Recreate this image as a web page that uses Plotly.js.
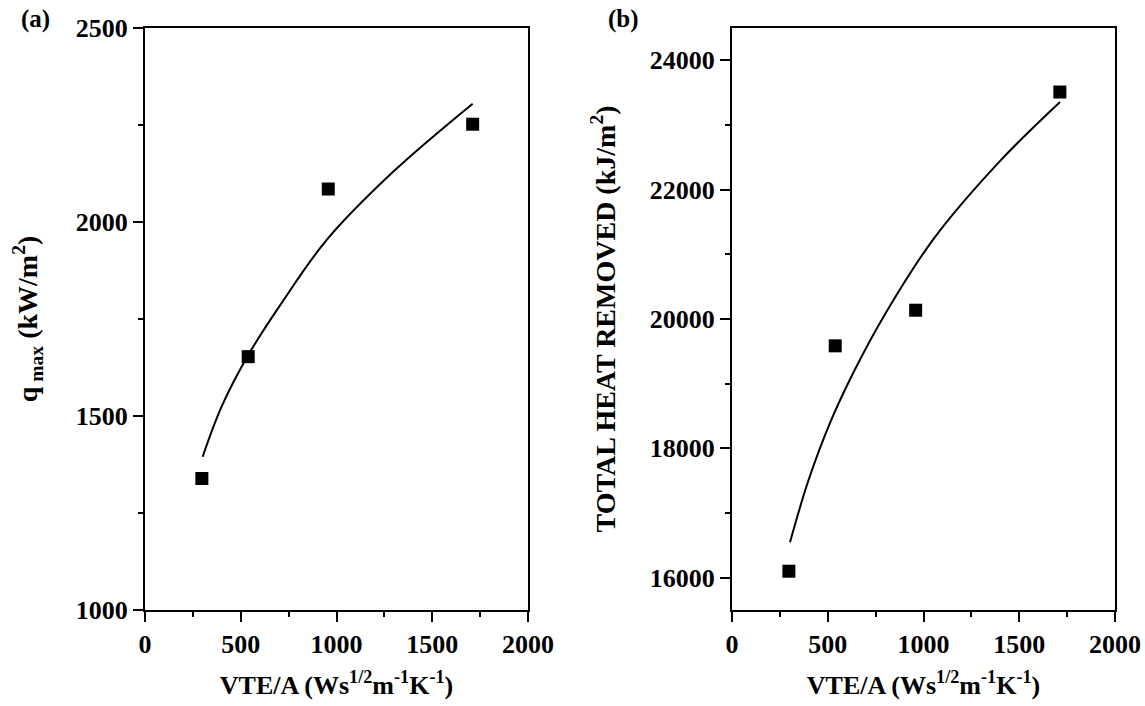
<!DOCTYPE html>
<html><head><meta charset="utf-8">
<script src="https://cdn.plot.ly/plotly-3.0.1.min.js"></script>
<style>html,body{margin:0;padding:0;background:#fff}#plot{width:1145px;height:706px}</style>
</head><body><div id="plot"></div>
<script>
// Panel (a) data
const vteA = [297, 539, 957, 1711];
const qmax = [1339, 1653, 2085, 2252];
const fitXA = [301, 400, 539, 705, 949, 1297, 1711];
const fitYA = [1395, 1524, 1657, 1785, 1954, 2130, 2305];
// Panel (b) data
const vteB = [297, 539, 959, 1712];
const heat = [16100, 19585, 20136, 23510];
const fitXB = [303, 399, 520, 642, 799, 1051, 1399, 1713];
const fitYB = [16549, 17502, 18450, 19220, 20075, 21232, 22441, 23356];
// tick labels
const xTicks = [0, 500, 1000, 1500, 2000];
const yTicksA = [1000, 1500, 2000, 2500];
const yTicksB = [16000, 18000, 20000, 22000, 24000];

const F = 'Liberation Serif';
const mk = {symbol: 'square', size: 13, color: '#000'};
const ln = {color: '#000', width: 2, shape: 'spline', smoothing: 1};
const bold = v => '<b>' + v + '</b>';

const traces = [
  {x: fitXA, y: fitYA, mode: 'lines', line: ln, xaxis: 'x', yaxis: 'y', hoverinfo: 'skip'},
  {x: vteA, y: qmax, mode: 'markers', marker: mk, xaxis: 'x', yaxis: 'y'},
  {x: fitXB, y: fitYB, mode: 'lines', line: ln, xaxis: 'x2', yaxis: 'y2', hoverinfo: 'skip'},
  {x: vteB, y: heat, mode: 'markers', marker: mk, xaxis: 'x2', yaxis: 'y2'}
];

function axBase(extra) {
  return Object.assign({
    showline: true, linecolor: '#000', linewidth: 2, mirror: true,
    ticks: 'outside', ticklen: 10, tickwidth: 2, tickcolor: '#000',
    showgrid: false, zeroline: false,
    tickfont: {family: F, size: 26, color: '#000'}
  }, extra);
}
const minorX = {ticks: 'outside', ticklen: 5, tickwidth: 2, tickcolor: '#000', dtick: 250};
const xTitle = '<b>VTE/A (Ws<sup>1/2</sup>m<sup>-1</sup>K<sup>-1</sup>)</b>';
const tf = s => ({family: F, size: s, color: '#000'});

const layout = {
  width: 1145, height: 706,
  margin: {l: 0, r: 0, t: 28, b: 96},
  paper_bgcolor: '#fff', plot_bgcolor: '#fff',
  showlegend: false,
  font: {family: F, color: '#000'},
  xaxis: axBase({domain: [145/1145, 528/1145], range: [0, 2000],
    tickvals: xTicks, ticktext: xTicks.map(bold), minor: minorX, anchor: 'y',
    title: {text: xTitle, font: tf(26), standoff: 18}}),
  yaxis: axBase({domain: [0, 1], range: [1000, 2500], anchor: 'x',
    tickvals: yTicksA, ticktext: yTicksA.map(bold),
    minor: {ticks: 'outside', ticklen: 5, tickwidth: 2, tickcolor: '#000', dtick: 250},
    title: {text: '<b>q<sub> max</sub> (kW/m<sup>2</sup>)</b>', font: tf(28), standoff: 30}}),
  xaxis2: axBase({domain: [732/1145, 1115/1145], range: [0, 2000],
    tickvals: xTicks, ticktext: xTicks.map(bold), minor: minorX, anchor: 'y2',
    title: {text: xTitle, font: tf(26), standoff: 18}}),
  yaxis2: axBase({domain: [0, 1], range: [15500, 24500], anchor: 'x2',
    tickvals: yTicksB, ticktext: yTicksB.map(bold),
    minor: {ticks: 'outside', ticklen: 5, tickwidth: 2, tickcolor: '#000', tickvals: [17000, 19000, 21000, 23000]},
    title: {text: '<b>TOTAL HEAT REMOVED (kJ/m<sup>2</sup>)</b>', font: tf(28), standoff: 26}}),
  annotations: [
    {text: '<b>(a)</b>', xref: 'paper', yref: 'paper', x: 35/1145, y: 1, yshift: 9, xanchor: 'center', yanchor: 'middle', showarrow: false,
     font: tf(25)},
    {text: '<b>(b)</b>', xref: 'paper', yref: 'paper', x: 623/1145, y: 1, yshift: 9, xanchor: 'center', yanchor: 'middle', showarrow: false,
     font: tf(25)}
  ]
};

Plotly.newPlot('plot', traces, layout, {staticPlot: true, displayModeBar: false});
</script></body></html>
